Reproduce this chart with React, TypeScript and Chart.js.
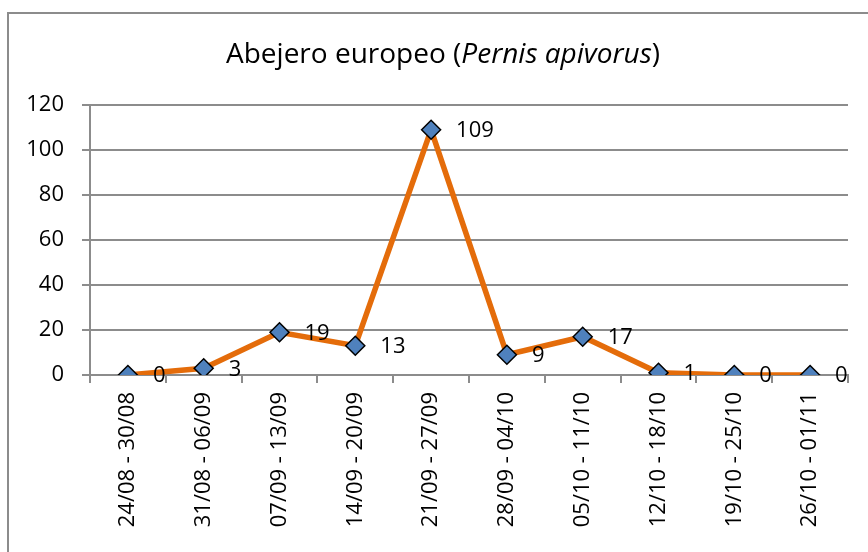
import { useEffect, useRef } from 'react';
import { Chart, registerables } from 'chart.js';

Chart.register(...registerables);

const categories = [
  '24/08 - 30/08',
  '31/08 - 06/09',
  '07/09 - 13/09',
  '14/09 - 20/09',
  '21/09 - 27/09',
  '28/09 - 04/10',
  '05/10 - 11/10',
  '12/10 - 18/10',
  '19/10 - 25/10',
  '26/10 - 01/11',
];
const counts = [0, 3, 19, 13, 109, 9, 17, 1, 0, 0];
const yMin = 0;
const yMax = 120;
const yStep = 20;
const titleMain = 'Abejero europeo (';
const titleItalic = 'Pernis apivorus';
const titleEnd = ')';

const FONT = "'Open Sans', 'Noto Sans', sans-serif";
const GRID = '#8c8c8c';

export default function App() {
  const ref = useRef<HTMLCanvasElement | null>(null);

  useEffect(() => {
    const canvas = ref.current;
    if (!canvas) return;

    const framePlugin = {
      id: 'frame',
      beforeDraw(chart: any) {
        const ctx = chart.ctx;
        ctx.save();
        ctx.fillStyle = '#ffffff';
        ctx.fillRect(0, 0, chart.width, chart.height);
        ctx.strokeStyle = GRID;
        ctx.lineWidth = 2;
        ctx.strokeRect(8, 13, chart.width + 40, chart.height + 40);
        ctx.restore();
      },
    };

    const titlePlugin = {
      id: 'mixedTitle',
      afterDraw(chart: any) {
        const ctx = chart.ctx;
        const size = 28;
        ctx.save();
        ctx.fillStyle = '#000';
        ctx.textBaseline = 'alphabetic';
        ctx.textAlign = 'left';
        const normal = `${size}px ${FONT}`;
        const italic = `italic ${size}px ${FONT}`;
        ctx.font = normal;
        const w1 = ctx.measureText(titleMain).width;
        const w3 = ctx.measureText(titleEnd).width;
        ctx.font = italic;
        const w2 = ctx.measureText(titleItalic).width;
        const total = w1 + w2 + w3;
        let x = 443 - total / 2;
        const y = 63;
        ctx.font = normal;
        ctx.fillText(titleMain, x, y);
        x += w1;
        ctx.font = italic;
        ctx.fillText(titleItalic, x, y);
        x += w2;
        ctx.font = normal;
        ctx.fillText(titleEnd, x, y);
        ctx.restore();
      },
    };

    const labelPlugin = {
      id: 'pointLabels',
      afterDatasetsDraw(chart: any) {
        const ctx = chart.ctx;
        const meta = chart.getDatasetMeta(0);
        ctx.save();
        ctx.fillStyle = '#000';
        ctx.font = `22px ${FONT}`;
        ctx.textAlign = 'left';
        ctx.textBaseline = 'middle';
        meta.data.forEach((pt: any, i: number) => {
          ctx.fillText(String(counts[i]), pt.x + 25, pt.y + 1);
        });
        ctx.restore();
      },
    };

    const chart = new Chart(canvas, {
      type: 'line',
      data: {
        labels: categories,
        datasets: [
          {
            data: counts,
            borderColor: '#E46C0A',
            borderWidth: 5.5,
            tension: 0,
            pointStyle: 'rectRot',
            pointRadius: 9.5,
            pointHoverRadius: 9.5,
            pointBackgroundColor: '#4F81BD',
            pointBorderColor: '#000000',
            pointBorderWidth: 1.5,
          },
        ],
      },
      options: {
        responsive: false,
        animation: false,
        events: [],
        layout: { padding: { top: 105, right: 20, bottom: 0, left: 0 } },
        plugins: {
          legend: { display: false },
          title: { display: false },
          tooltip: { enabled: false },
        },
        scales: {
          x: {
            type: 'category',
            offset: true,
            afterFit(scale: any) {
              scale.height = 177;
            },
            grid: {
              display: true,
              drawOnChartArea: false,
              drawTicks: true,
              tickLength: 8,
              color: GRID,
              lineWidth: 2,
              offset: true,
            },
            border: { display: true, color: GRID, width: 2 },
            ticks: {
              autoSkip: false,
              maxRotation: 90,
              minRotation: 90,
              padding: 9,
              color: '#000',
              font: { family: FONT, size: 22 },
            },
          },
          y: {
            min: yMin,
            max: yMax,
            afterFit(scale: any) {
              scale.width = 90;
            },
            grid: {
              color: GRID,
              lineWidth: 2,
              tickLength: 8,
              drawTicks: true,
            },
            border: { display: true, color: GRID, width: 2 },
            ticks: {
              stepSize: yStep,
              padding: 18,
              color: '#000',
              font: { family: FONT, size: 22 },
            },
          },
        },
      },
      plugins: [framePlugin, titlePlugin, labelPlugin],
    });

    return () => {
      chart.destroy();
    };
  }, []);

  return (
    <div style={{ position: 'absolute', left: 0, top: 0, width: 868, height: 552 }}>
      <canvas ref={ref} width={868} height={552} style={{ width: 868, height: 552, display: 'block' }} />
    </div>
  );
}
